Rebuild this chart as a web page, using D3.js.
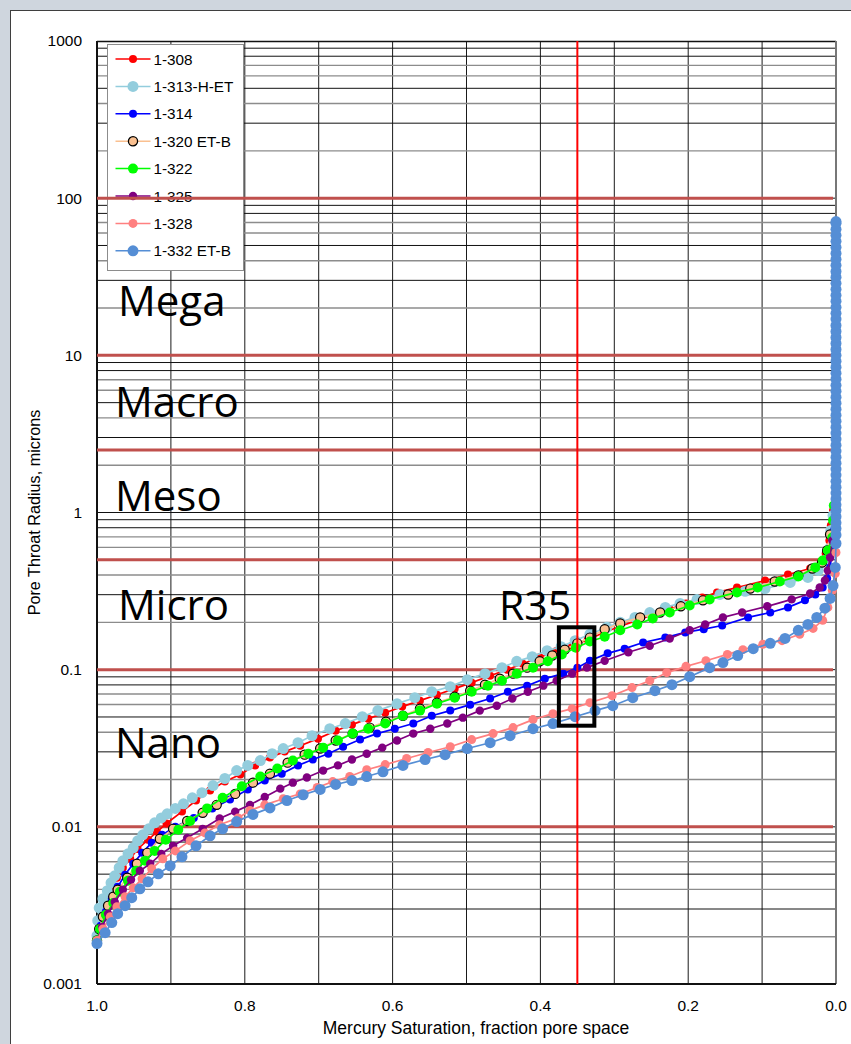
<!DOCTYPE html>
<html>
<head>
<meta charset="utf-8">
<script src="https://cdn.jsdelivr.net/npm/d3@7"></script>
<style>
  body { margin: 0; background: #cfd6de; }
  svg { display: block; font-family: "Liberation Sans", Arial, sans-serif; }
</style>
</head>
<body>
<svg id="chart" width="851" height="1044"></svg>
<script>
// ---- data: [mercury saturation, pore throat radius (microns)] ----
const s308 = [[1.000,0.00189],[0.997,0.00231],[0.993,0.0028],[0.988,0.00333],[0.981,0.00398],[0.973,0.00474],[0.965,0.00549],[0.955,0.00626],[0.945,0.00724],[0.931,0.00827],[0.919,0.00929],[0.906,0.0105],[0.885,0.0125],[0.866,0.0147],[0.847,0.0170],[0.827,0.0194],[0.806,0.0215],[0.786,0.0246],[0.766,0.0276],[0.746,0.0301],[0.725,0.0328],[0.701,0.0364],[0.677,0.0409],[0.655,0.0447],[0.633,0.0488],[0.610,0.0532],[0.587,0.0582],[0.563,0.0635],[0.540,0.0693],[0.516,0.0757],[0.493,0.0827],[0.468,0.0915],[0.445,0.100],[0.424,0.109],[0.401,0.120],[0.379,0.131],[0.357,0.142],[0.336,0.155],[0.314,0.1725],[0.292,0.189],[0.269,0.206],[0.248,0.224],[0.225,0.242],[0.203,0.264],[0.181,0.288],[0.161,0.310],[0.134,0.333],[0.096,0.369],[0.065,0.403],[0.035,0.440],[0.019,0.495],[0.014,0.549],[0.009,0.663],[0.007,0.827],[0.004,1.03]];
const s313 = [[1.000,0.00203],[0.999,0.00253],[0.997,0.00305],[0.992,0.00349],[0.986,0.00392],[0.981,0.0044],[0.976,0.00488],[0.970,0.00549],[0.965,0.00608],[0.958,0.00673],[0.951,0.00735],[0.945,0.00815],[0.938,0.00889],[0.930,0.00971],[0.922,0.0106],[0.913,0.0114],[0.905,0.0121],[0.894,0.0131],[0.883,0.0140],[0.871,0.0153],[0.858,0.0165],[0.843,0.0183],[0.827,0.0203],[0.811,0.0228],[0.796,0.0246],[0.779,0.0264],[0.763,0.0292],[0.748,0.0315],[0.728,0.0343],[0.709,0.0380],[0.685,0.0421],[0.664,0.0454],[0.641,0.0502],[0.620,0.0549],[0.594,0.0608],[0.570,0.0663],[0.547,0.0724],[0.522,0.0780],[0.499,0.0864],[0.475,0.0943],[0.452,0.103],[0.432,0.113],[0.411,0.121],[0.391,0.132],[0.372,0.140],[0.353,0.153],[0.333,0.168],[0.310,0.186],[0.292,0.200],[0.272,0.215],[0.252,0.231],[0.231,0.249],[0.211,0.264],[0.188,0.280],[0.157,0.301],[0.123,0.315],[0.096,0.328],[0.062,0.359],[0.038,0.386],[0.024,0.428],[0.015,0.495],[0.009,0.590],[0.007,0.769],[0.004,0.957]];
const s314 = [[1.000,0.00189],[0.995,0.00235],[0.988,0.00288],[0.980,0.00349],[0.972,0.00415],[0.962,0.00495],[0.951,0.00582],[0.939,0.00683],[0.926,0.00791],[0.912,0.00889],[0.894,0.0100],[0.869,0.0114],[0.844,0.0131],[0.820,0.0149],[0.796,0.0173],[0.773,0.0197],[0.750,0.0218],[0.728,0.0246],[0.708,0.0268],[0.687,0.0292],[0.667,0.0323],[0.644,0.0359],[0.621,0.0392],[0.597,0.0421],[0.572,0.0454],[0.547,0.0509],[0.522,0.0549],[0.495,0.0599],[0.468,0.0655],[0.444,0.0724],[0.418,0.0791],[0.394,0.0877],[0.369,0.0943],[0.350,0.103],[0.333,0.114],[0.309,0.127],[0.286,0.136],[0.261,0.149],[0.231,0.160],[0.204,0.1725],[0.179,0.181],[0.154,0.191],[0.119,0.215],[0.089,0.231],[0.065,0.249],[0.042,0.276],[0.028,0.301],[0.018,0.333],[0.012,0.380],[0.008,0.447],[0.005,0.573],[0.003,0.769]];
const s320 = [[1.000,0.00189],[0.997,0.00224],[0.992,0.00268],[0.985,0.00315],[0.978,0.00359],[0.972,0.00398],[0.959,0.00474],[0.946,0.00582],[0.932,0.00683],[0.915,0.00839],[0.897,0.00971],[0.878,0.0109],[0.857,0.0123],[0.838,0.0138],[0.813,0.0162],[0.789,0.0191],[0.766,0.0218],[0.742,0.0256],[0.719,0.0288],[0.698,0.0315],[0.677,0.0354],[0.654,0.0392],[0.631,0.0428],[0.609,0.0467],[0.586,0.0509],[0.563,0.0565],[0.540,0.0617],[0.516,0.0673],[0.495,0.0735],[0.475,0.0803],[0.455,0.0877],[0.437,0.0943],[0.418,0.103],[0.401,0.113],[0.384,0.123],[0.367,0.134],[0.350,0.147],[0.333,0.160],[0.313,0.181],[0.292,0.197],[0.265,0.215],[0.238,0.231],[0.210,0.253],[0.180,0.276],[0.146,0.301],[0.116,0.328],[0.083,0.364],[0.051,0.398],[0.032,0.440],[0.019,0.481],[0.012,0.573],[0.008,0.724]];
const s322 = [[1.000,0.00189],[0.996,0.00224],[0.988,0.00276],[0.978,0.00328],[0.969,0.00386],[0.958,0.00454],[0.947,0.00525],[0.935,0.00608],[0.922,0.00703],[0.907,0.00827],[0.890,0.00957],[0.874,0.0109],[0.851,0.0131],[0.830,0.0153],[0.804,0.0181],[0.779,0.0209],[0.756,0.0235],[0.735,0.0264],[0.714,0.0292],[0.694,0.0319],[0.674,0.0354],[0.654,0.0392],[0.633,0.0421],[0.610,0.0454],[0.586,0.0509],[0.563,0.0549],[0.540,0.0608],[0.516,0.0663],[0.493,0.0724],[0.471,0.0791],[0.452,0.0851],[0.432,0.0943],[0.410,0.103],[0.390,0.113],[0.371,0.125],[0.352,0.138],[0.333,0.151],[0.313,0.162],[0.292,0.178],[0.269,0.194],[0.248,0.212],[0.225,0.231],[0.198,0.256],[0.171,0.280],[0.134,0.310],[0.106,0.333],[0.076,0.364],[0.051,0.392],[0.028,0.447],[0.018,0.495],[0.011,0.573],[0.005,0.693],[0.004,0.889],[0.003,1.108]];
const s325 = [[1.000,0.00189],[0.993,0.00231],[0.985,0.0028],[0.976,0.00333],[0.965,0.00398],[0.954,0.0046],[0.942,0.00525],[0.928,0.00582],[0.913,0.00673],[0.897,0.00757],[0.878,0.00851],[0.857,0.00971],[0.834,0.0113],[0.813,0.0125],[0.793,0.0138],[0.773,0.0155],[0.752,0.0175],[0.735,0.0191],[0.716,0.0206],[0.694,0.0228],[0.674,0.0246],[0.655,0.0268],[0.635,0.0292],[0.614,0.0319],[0.594,0.0354],[0.572,0.0392],[0.549,0.0421],[0.526,0.0454],[0.505,0.0495],[0.482,0.0549],[0.459,0.0590],[0.438,0.0655],[0.417,0.0724],[0.396,0.0791],[0.378,0.0851],[0.357,0.0943],[0.337,0.103],[0.313,0.114],[0.281,0.129],[0.252,0.142],[0.225,0.158],[0.198,0.178],[0.177,0.194],[0.153,0.215],[0.127,0.231],[0.093,0.253],[0.060,0.280],[0.035,0.305],[0.022,0.333],[0.015,0.369],[0.011,0.428],[0.008,0.517],[0.005,0.663]];
const s328 = [[1.000,0.00189],[0.992,0.00224],[0.982,0.00268],[0.973,0.0031],[0.962,0.00359],[0.951,0.00409],[0.939,0.00467],[0.926,0.00541],[0.911,0.00626],[0.894,0.00703],[0.874,0.00815],[0.854,0.00915],[0.834,0.0103],[0.809,0.0114],[0.793,0.0127],[0.773,0.0138],[0.748,0.0151],[0.725,0.0162],[0.702,0.0178],[0.681,0.0194],[0.658,0.0209],[0.635,0.0231],[0.610,0.0249],[0.581,0.0272],[0.552,0.0297],[0.522,0.0323],[0.493,0.0359],[0.464,0.0392],[0.437,0.0428],[0.410,0.0481],[0.383,0.0525],[0.357,0.0565],[0.333,0.0617],[0.303,0.0683],[0.276,0.0769],[0.252,0.0851],[0.229,0.0957],[0.203,0.105],[0.176,0.114],[0.147,0.125],[0.126,0.134],[0.099,0.145],[0.073,0.153],[0.049,0.168],[0.031,0.183],[0.018,0.206],[0.011,0.249],[0.005,0.319],[0.001,0.409],[0.0,0.557]];
const s332 = [[1.000,0.00181],[0.989,0.00212],[0.980,0.00246],[0.972,0.0028],[0.962,0.00315],[0.953,0.00354],[0.942,0.00403],[0.931,0.00447],[0.917,0.00502],[0.901,0.00565],[0.885,0.00645],[0.866,0.00757],[0.847,0.00877],[0.830,0.00971],[0.811,0.0108],[0.789,0.0120],[0.766,0.0132],[0.743,0.0147],[0.721,0.0160],[0.698,0.0173],[0.677,0.0186],[0.655,0.0197],[0.635,0.0209],[0.613,0.0224],[0.586,0.0246],[0.556,0.0268],[0.529,0.0288],[0.499,0.0315],[0.468,0.0343],[0.441,0.0380],[0.410,0.0421],[0.383,0.0454],[0.353,0.0502],[0.326,0.0549],[0.302,0.0590],[0.275,0.0663],[0.245,0.0735],[0.222,0.0803],[0.198,0.0902],[0.171,0.103],[0.153,0.111],[0.133,0.123],[0.112,0.136],[0.089,0.147],[0.069,0.158],[0.051,0.178],[0.038,0.194],[0.026,0.215],[0.015,0.246],[0.008,0.284],[0.004,0.343],[0.001,0.447],[0.0,0.635],
  [0.0,0.72],[0.0,0.79],[0.0,0.86],[0.0,0.94],[0.0,1.03],[0.0,1.12],[0.0,1.22],[0.0,1.33],[0.0,1.45],[0.0,1.58],[0.0,1.73],[0.0,1.89],[0.0,2.06],[0.0,2.25],[0.0,2.46],[0.0,2.68],[0.0,2.93],[0.0,3.2],[0.0,3.49],[0.0,3.81],[0.0,4.16],[0.0,4.54],[0.0,4.96],[0.0,5.42],[0.0,5.91],[0.0,6.45],[0.0,7.05],[0.0,7.7],[0.0,8.4],[0.0,9.17],[0.0,10],[0.0,10.9],[0.0,11.9],[0.0,13],[0.0,14.2],[0.0,15.5],[0.0,17],[0.0,18.5],[0.0,20.2],[0.0,22.1],[0.0,24.1],[0.0,26.3],[0.0,28.7],[0.0,31.4],[0.0,34.2],[0.0,37.4],[0.0,40.8],[0.0,44.6],[0.0,48.7],[0.0,53.1],[0.0,58],[0.0,63.4],[0.0,69.2],[0.0,71]];

const sampleNames = ["1-308", "1-313-H-ET", "1-314", "1-320 ET-B", "1-322", "1-325", "1-328", "1-332 ET-B"];
const sampleData = [s308, s313, s314, s320, s322, s325, s328, s332];

const poreBounds = [100, 10, 2.5, 0.5, 0.1, 0.01];
const poreClasses = ["Mega", "Macro", "Meso", "Micro", "Nano"];
const xTicks = [1.0, 0.8, 0.6, 0.4, 0.2, 0.0];
const yTicks = [1000, 100, 10, 1, 0.1, 0.01, 0.001];
const r35 = 0.35;

// ---- styles ----
const styles = [
  { line: "#ff0000", fill: "#ff0000", stroke: "none", r: 4 },
  { line: "#93cddd", fill: "#93cddd", stroke: "none", r: 5.5 },
  { line: "#0000ff", fill: "#0000ff", stroke: "none", r: 4 },
  { line: "#fac090", fill: "#fac090", stroke: "#000", r: 4.6 },
  { line: "#00ff00", fill: "#00ff00", stroke: "none", r: 5 },
  { line: "#800080", fill: "#800080", stroke: "none", r: 4.2 },
  { line: "#ff8080", fill: "#ff8080", stroke: "none", r: 4.5 },
  { line: "#558ed5", fill: "#558ed5", stroke: "none", r: 5.5 }
];

const svg = d3.select("#chart");
const plotL = 97, plotR = 836, plotT = 41, plotB = 984;

const x = d3.scaleLinear().domain([1, 0]).range([plotL, plotR]);
const y = d3.scaleLog().domain([0.001, 1000]).range([plotB, plotT]);

// panel
svg.append("rect")
  .attr("x", 10.5).attr("y", 10.5)
  .attr("width", 900).attr("height", 1100)
  .attr("fill", "#fff").attr("stroke", "#3f3f3f");

const g = svg.append("g");

// vertical grid
g.selectAll(".vgrid")
  .data(d3.range(1, 10).map(i => i / 10))
  .enter().append("line")
  .attr("x1", d => x(d)).attr("x2", d => x(d))
  .attr("y1", plotT).attr("y2", plotB)
  .attr("stroke", "#1a1a1a").attr("stroke-width", 1);

// horizontal minor grid (two overlaid gridline sets, black and gray)
const minorTone = { 9: "#111", 8: "#111", 7: "#8c8c8c", 6: "#8c8c8c", 5: "#111", 4: "#8c8c8c", 3: "#111", 2: "#8c8c8c" };
const minor = [];
[0.001, 0.01, 0.1, 1, 10, 100].forEach(dec => {
  for (let m = 2; m <= 9; m++) minor.push({ v: m * dec, c: minorTone[m] });
});
g.selectAll(".hgrid")
  .data(minor)
  .enter().append("line")
  .attr("x1", plotL).attr("x2", plotR)
  .attr("y1", d => y(d.v)).attr("y2", d => y(d.v))
  .attr("stroke", d => d.c)
  .attr("stroke-width", d => d.c === "#111" ? 1 : 1.4);

g.selectAll(".dgrid")
  .data([1, 10, 100, 0.1, 0.01])
  .enter().append("line")
  .attr("x1", plotL).attr("x2", plotR)
  .attr("y1", d => y(d)).attr("y2", d => y(d))
  .attr("stroke", "#111").attr("stroke-width", 1);

// plot frame
g.append("line").attr("x1", plotL).attr("x2", plotR).attr("y1", plotT + 0.5).attr("y2", plotT + 0.5)
  .attr("stroke", "#111").attr("stroke-width", 1.5);
g.append("line").attr("x1", plotR).attr("x2", plotR).attr("y1", plotT).attr("y2", plotB)
  .attr("stroke", "#777").attr("stroke-width", 2);
g.append("line").attr("x1", plotL).attr("x2", plotL).attr("y1", plotT).attr("y2", plotB)
  .attr("stroke", "#111").attr("stroke-width", 2);
g.append("line").attr("x1", plotL).attr("x2", plotR).attr("y1", plotB).attr("y2", plotB)
  .attr("stroke", "#111").attr("stroke-width", 2);

// legend
const legend = svg.append("g").attr("transform", "translate(107.5,44.5)");
legend.append("rect")
  .attr("width", 136).attr("height", 226)
  .attr("fill", "#fff").attr("stroke", "#8c8c8c");
sampleNames.forEach((name, i) => {
  const st = styles[i];
  const row = legend.append("g").attr("transform", `translate(0,${14.5 + i * 27.4})`);
  row.append("line").attr("x1", 8).attr("x2", 43).attr("stroke", st.line).attr("stroke-width", 1.5);
  row.append("circle").attr("cx", 25.5).attr("r", st.r)
    .attr("fill", st.fill).attr("stroke", st.stroke).attr("stroke-width", 1.3);
  row.append("text").attr("x", 46).attr("y", 5.5)
    .attr("font-size", 15.3).attr("fill", "#000").text(name);
});

// pore type boundaries
svg.selectAll(".bound")
  .data(poreBounds)
  .enter().append("line")
  .attr("x1", plotL).attr("x2", plotR - 3)
  .attr("y1", d => y(d)).attr("y2", d => y(d))
  .attr("stroke", "#c0504d").attr("stroke-width", 3);

// series
const line = d3.line().x(d => x(d[0])).y(d => y(d[1]));
sampleData.forEach((data, i) => {
  const st = styles[i];
  const sg = svg.append("g");
  sg.append("path").datum(data)
    .attr("d", line).attr("fill", "none")
    .attr("stroke", st.line).attr("stroke-width", 1.7);
  sg.selectAll("circle").data(data).enter().append("circle")
    .attr("cx", d => x(d[0])).attr("cy", d => y(d[1]))
    .attr("r", st.r).attr("fill", st.fill)
    .attr("stroke", st.stroke).attr("stroke-width", 1.2);
});

// R35 line and box
svg.append("line")
  .attr("x1", x(r35)).attr("x2", x(r35))
  .attr("y1", plotT).attr("y2", plotB)
  .attr("stroke", "#ff0000").attr("stroke-width", 2);
svg.append("rect")
  .attr("x", x(0.375)).attr("y", y(0.186))
  .attr("width", x(0.327) - x(0.375)).attr("height", y(0.044) - y(0.186))
  .attr("fill", "none").attr("stroke", "#000").attr("stroke-width", 4);

// class labels
const labelY = [316, 417, 511, 620, 758];
svg.selectAll(".cls")
  .data(poreClasses)
  .enter().append("text")
  .attr("x", (d, i) => i === 0 || i === 3 ? 118 : 115)
  .attr("y", (d, i) => labelY[i])
  .attr("font-family", "'Open Sans', sans-serif")
  .attr("font-size", 42).attr("fill", "#000")
  .text(d => d);
svg.append("text")
  .attr("x", 499).attr("y", 620)
  .attr("font-family", "'Open Sans', sans-serif")
  .attr("font-size", 41).attr("fill", "#000")
  .text("R35");

// axes labels
svg.selectAll(".ytick")
  .data(yTicks)
  .enter().append("text")
  .attr("x", 82).attr("y", d => y(d)).attr("dy", "0.35em")
  .attr("text-anchor", "end").attr("font-size", 15.5).attr("fill", "#000")
  .text(d => d >= 1 ? d3.format("d")(d) : String(d));
svg.selectAll(".xtick")
  .data(xTicks)
  .enter().append("text")
  .attr("x", d => x(d)).attr("y", 1011)
  .attr("text-anchor", "middle").attr("font-size", 15.5).attr("fill", "#000")
  .text(d => d3.format(".1f")(d));

svg.append("text")
  .attr("x", 476).attr("y", 1034)
  .attr("text-anchor", "middle").attr("font-size", 17.5)
  .attr("font-family", "'Liberation Sans Narrow', 'Liberation Sans', sans-serif")
  .text("Mercury Saturation, fraction pore space");
svg.append("text")
  .attr("transform", `translate(40,${(plotT + plotB) / 2}) rotate(-90)`)
  .attr("text-anchor", "middle").attr("font-size", 16.2)
  .text("Pore Throat Radius, microns");
</script>
</body>
</html>
